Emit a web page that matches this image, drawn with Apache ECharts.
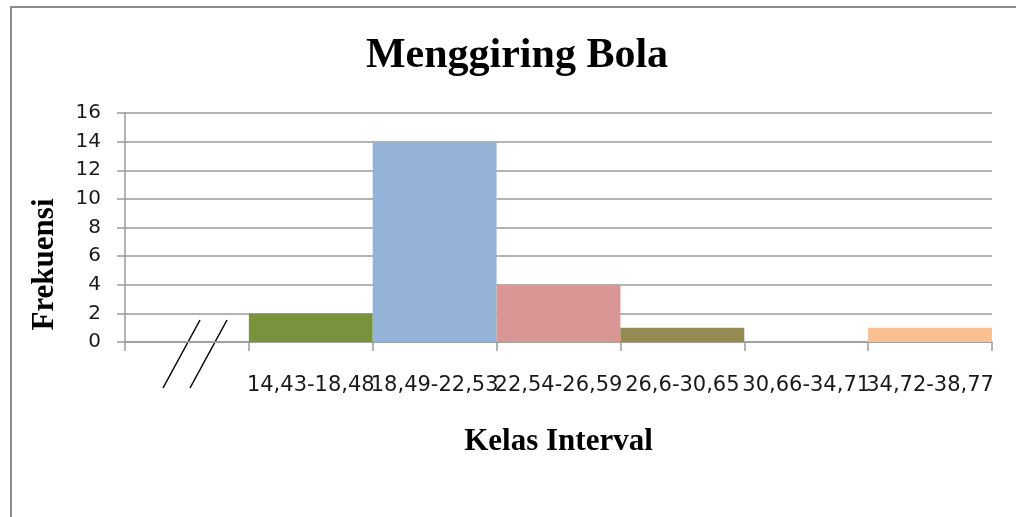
<!DOCTYPE html>
<html>
<head>
<meta charset="utf-8">
<script src="https://cdn.jsdelivr.net/npm/echarts@6/dist/echarts.min.js"></script>
<style>
html,body{margin:0;padding:0;background:#fff;}
#chart{width:1016px;height:517px;}
</style>
</head>
<body>
<div id="chart"></div>
<script>
const categories = ['', '14,43-18,48', '18,49-22,53', '22,54-26,59', '26,6-30,65', '30,66-34,71', '34,72-38,77'];
const frequencies = [null, 2, 14, 4, 1, 0, 1];
const barColors = ['#FFFFFF', '#77933C', '#95B3D7', '#D99694', '#948A54', '#B2A2C7', '#FAC090'];
const yTicks = { min: 0, max: 16, interval: 2 };

const chart = echarts.init(document.getElementById('chart'), null, { renderer: 'canvas' });
const option = {
  backgroundColor: '#ffffff',
  animation: false,
  title: {
    text: 'Menggiring Bola',
    left: 512,
    textAlign: 'center',
    top: 30,
    textStyle: { fontFamily: 'Liberation Serif', fontWeight: 'bold', fontSize: 42, color: '#000' }
  },
  grid: { left: 125, right: 24, top: 113, bottom: 175, containLabel: false },
  xAxis: {
    type: 'category',
    data: categories,
    boundaryGap: true,
    name: 'Kelas Interval',
    nameLocation: 'middle',
    nameGap: 84,
    nameTextStyle: { fontFamily: 'Liberation Serif', fontWeight: 'bold', fontSize: 31, color: '#000' },
    axisLine: { show: true, lineStyle: { color: '#9a9a9a', width: 1.5 } },
    axisTick: { show: true, length: 9, interval: 0, lineStyle: { color: '#9a9a9a', width: 1.5 } },
    axisLabel: { interval: 0, margin: 33, hideOverlap: false, fontFamily: 'DejaVu Sans', fontSize: 21, color: '#1a1a1a' },
    splitLine: { show: false }
  },
  yAxis: {
    type: 'value',
    min: yTicks.min,
    max: yTicks.max,
    interval: yTicks.interval,
    name: 'Frekuensi',
    nameLocation: 'middle',
    nameGap: 65,
    nameRotate: 90,
    nameTextStyle: { fontFamily: 'Liberation Serif', fontWeight: 'bold', fontSize: 31, color: '#000', padding: [0, 74, 0, 0] },
    axisLine: { show: true, lineStyle: { color: '#9a9a9a', width: 1.5 } },
    axisTick: { show: true, length: 8, lineStyle: { color: '#9a9a9a', width: 1.5 } },
    axisLabel: { margin: 24, fontFamily: 'DejaVu Sans', fontSize: 20, color: '#1a1a1a' },
    splitLine: { show: true, lineStyle: { color: '#9a9a9a', width: 1.5 } }
  },
  series: [{
    type: 'bar',
    barCategoryGap: '0%',
    data: frequencies.map((v, i) => ({ value: v, itemStyle: { color: barColors[i] } }))
  }],
  graphic: [
    { type: 'line', shape: { x1: 11, y1: 6, x2: 11, y2: 517 }, style: { stroke: '#8c8c8c', lineWidth: 2 } },
    { type: 'line', shape: { x1: 10, y1: 7, x2: 1016, y2: 7 }, style: { stroke: '#8c8c8c', lineWidth: 2 } },
    { type: 'line', shape: { x1: 163, y1: 388, x2: 200, y2: 320 }, style: { stroke: '#000', lineWidth: 1.5 } },
    { type: 'line', shape: { x1: 190, y1: 388, x2: 227, y2: 320 }, style: { stroke: '#000', lineWidth: 1.5 } }
  ]
};
chart.setOption(option);
</script>
</body>
</html>
